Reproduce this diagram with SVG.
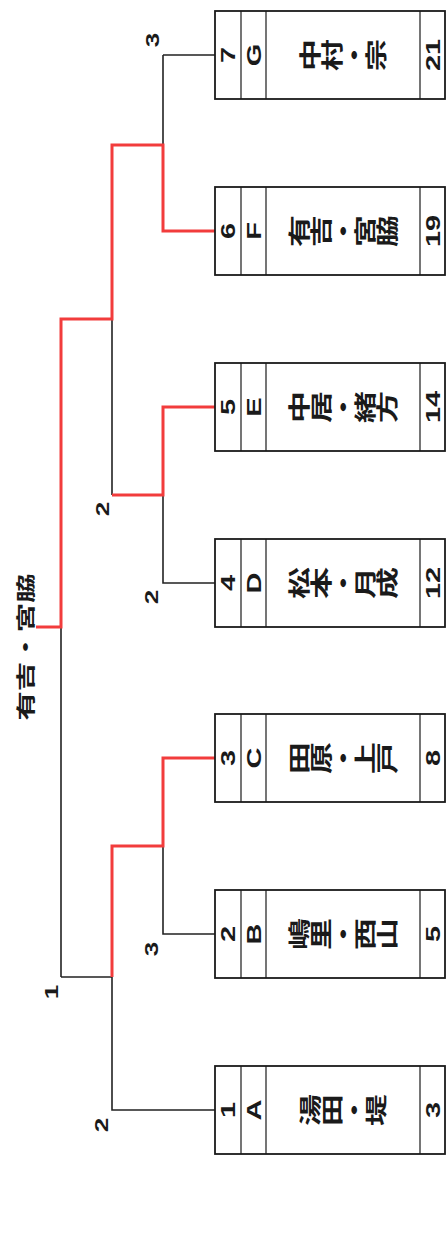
<svg xmlns="http://www.w3.org/2000/svg" width="447" height="1233" viewBox="0 0 447 1233">
<style>
.bx{fill:#fff;stroke:#1a1a1a;stroke-width:1.8}
.dv{stroke:#1a1a1a;stroke-width:1.2}
.t{font-family:"Liberation Sans","Noto Sans CJK JP",sans-serif;font-weight:bold;font-size:20px;fill:#1a1a1a;text-anchor:middle;dominant-baseline:central}
.lb{font-family:"Liberation Sans",sans-serif;font-weight:bold;font-size:18px;fill:#1a1a1a;text-anchor:middle;dominant-baseline:central}
.nm{font-family:"Noto Sans CJK JP",sans-serif;font-weight:bold;font-size:22px;fill:#1a1a1a;writing-mode:vertical-rl;text-anchor:middle}
.ti{font-family:"Noto Sans CJK JP",sans-serif;font-weight:bold;font-size:19px;fill:#1a1a1a;text-anchor:middle;dominant-baseline:central}
.blk{stroke:#222;stroke-width:1.6;fill:none}
.red{stroke:#f23c3c;stroke-width:3;fill:none}
</style>
<defs>
<g id="frame">
<rect class="bx" x="215" y="0" width="230" height="88"/>
<line class="dv" x1="241" y1="0" x2="241" y2="88"/>
<line class="dv" x1="266" y1="0" x2="266" y2="88"/>
<line class="dv" x1="420" y1="0" x2="420" y2="88"/>
</g>
</defs>
<g id="connectors">
<path class="blk" d="M163,55 H215 M163,55 V145 M112,319 V495 M163,495 V583 H215 M61,627 V977 M163,846 V934 H215 M61,977 H112 M112,977 V1110 H215"/>
<path class="red" d="M215,231 H163 V145 H112 V319 H61 V627 H36"/>
<path class="red" d="M215,407 H163 V495 H112"/>
<path class="red" d="M215,758 H163 V846 H112 V977"/>
</g>
<g id="title"><text class="ti" transform="translate(25,647) rotate(-90) scale(1.55,1)">有吉・宮脇</text></g>
<g id="labels">
<text class="lb" transform="translate(153,40) rotate(-90) scale(1.45,1)">3</text>
<text class="lb" transform="translate(103,509) rotate(-90) scale(1.45,1)">2</text>
<text class="lb" transform="translate(152,597) rotate(-90) scale(1.45,1)">2</text>
<text class="lb" transform="translate(152,949) rotate(-90) scale(1.45,1)">3</text>
<text class="lb" transform="translate(52,992) rotate(-90) scale(1.45,1)">1</text>
<text class="lb" transform="translate(102,1125) rotate(-90) scale(1.45,1)">2</text>
</g>
<g id="node-G" transform="translate(0,11)">
<use href="#frame"/>
<text class="t" transform="translate(228,44) rotate(-90) scale(1.45,1)">7</text>
<text class="t" transform="translate(253.5,44) rotate(-90) scale(1.45,1)">G</text>
<text class="nm" transform="translate(343,44) rotate(-90) scale(1.45,1)">中村・宗</text>
<text class="t" transform="translate(432.5,44) rotate(-90) scale(1.45,1)">21</text>
</g>
<g id="node-F" transform="translate(0,187)">
<use href="#frame"/>
<text class="t" transform="translate(228,44) rotate(-90) scale(1.45,1)">6</text>
<text class="t" transform="translate(253.5,44) rotate(-90) scale(1.45,1)">F</text>
<text class="nm" transform="translate(343,44) rotate(-90) scale(1.45,1)">有吉・宮脇</text>
<text class="t" transform="translate(432.5,44) rotate(-90) scale(1.45,1)">19</text>
</g>
<g id="node-E" transform="translate(0,363)">
<use href="#frame"/>
<text class="t" transform="translate(228,44) rotate(-90) scale(1.45,1)">5</text>
<text class="t" transform="translate(253.5,44) rotate(-90) scale(1.45,1)">E</text>
<text class="nm" transform="translate(343,44) rotate(-90) scale(1.45,1)">中居・緒方</text>
<text class="t" transform="translate(432.5,44) rotate(-90) scale(1.45,1)">14</text>
</g>
<g id="node-D" transform="translate(0,539)">
<use href="#frame"/>
<text class="t" transform="translate(228,44) rotate(-90) scale(1.45,1)">4</text>
<text class="t" transform="translate(253.5,44) rotate(-90) scale(1.45,1)">D</text>
<text class="nm" transform="translate(343,44) rotate(-90) scale(1.45,1)">松本・月成</text>
<text class="t" transform="translate(432.5,44) rotate(-90) scale(1.45,1)">12</text>
</g>
<g id="node-C" transform="translate(0,714)">
<use href="#frame"/>
<text class="t" transform="translate(228,44) rotate(-90) scale(1.45,1)">3</text>
<text class="t" transform="translate(253.5,44) rotate(-90) scale(1.45,1)">C</text>
<text class="nm" transform="translate(343,44) rotate(-90) scale(1.45,1)">田原・上戸</text>
<text class="t" transform="translate(432.5,44) rotate(-90) scale(1.45,1)">8</text>
</g>
<g id="node-B" transform="translate(0,890)">
<use href="#frame"/>
<text class="t" transform="translate(228,44) rotate(-90) scale(1.45,1)">2</text>
<text class="t" transform="translate(253.5,44) rotate(-90) scale(1.45,1)">B</text>
<text class="nm" transform="translate(343,44) rotate(-90) scale(1.45,1)">嶋里・西山</text>
<text class="t" transform="translate(432.5,44) rotate(-90) scale(1.45,1)">5</text>
</g>
<g id="node-A" transform="translate(0,1066)">
<use href="#frame"/>
<text class="t" transform="translate(228,44) rotate(-90) scale(1.45,1)">1</text>
<text class="t" transform="translate(253.5,44) rotate(-90) scale(1.45,1)">A</text>
<text class="nm" transform="translate(343,44) rotate(-90) scale(1.45,1)">湯田・堤</text>
<text class="t" transform="translate(432.5,44) rotate(-90) scale(1.45,1)">3</text>
</g>
</svg>
